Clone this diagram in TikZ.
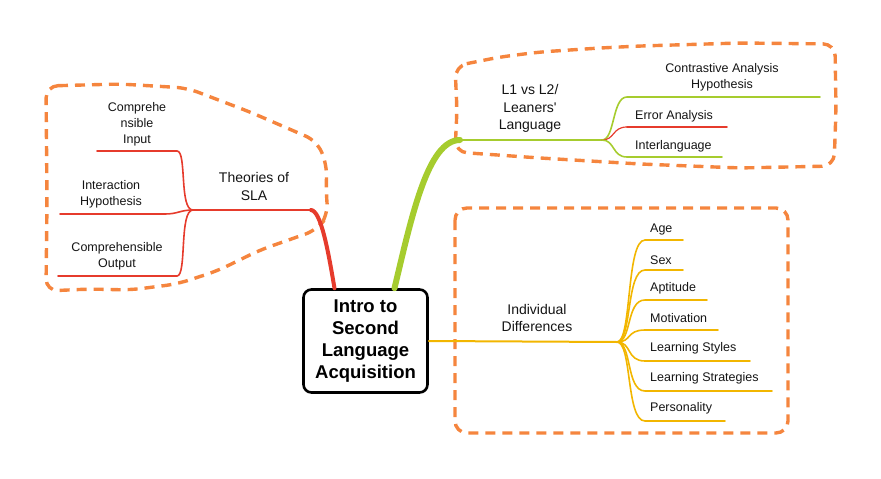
\documentclass[tikz,border=0pt]{standalone}
\usepackage{fontspec}
\setmainfont{Liberation Sans}
\definecolor{slared}{HTML}{E63B2C}
\definecolor{slagreen}{HTML}{A6CC2E}
\definecolor{slayellow}{HTML}{F2B600}
\definecolor{cloudorange}{HTML}{F5853E}
\definecolor{inktext}{HTML}{141414}
\begin{document}
\begin{tikzpicture}[x=1pt,y=-1pt,line cap=round,
  topic/.style={align=center,inner sep=0pt,text=inktext,font=\fontsize{14}{17.5}\selectfont},
  leaf/.style={align=center,inner sep=0pt,text=inktext,font=\fontsize{12.5}{16}\selectfont},
  twig/.style={line width=1.6pt},
  cloud/.style={cloudorange,line width=3.4pt,dash pattern=on 10pt off 7pt,line cap=butt,rounded corners=12pt}]
  \useasboundingbox (0,0) rectangle (881,479);
  % Dashed clouds
  \draw[cloud] (46,86) -- (120,84) -- (187,88) -- (250,112) -- (317,141) -- (327,165)
    -- (326,190) -- (328,215) -- (317,230) -- (260,250) -- (217,271) -- (177,284) -- (130,290)
    -- (90,289) -- (46,291) -- (47,200) -- cycle;
  \draw[cloud] (455,66) -- (500,57) -- (540,52) -- (600,48) -- (640,46) -- (740,43) -- (835,44)
    -- (836,110) -- (834,166) -- (740,168) -- (640,164) -- (540,158) -- (455,152) -- (457,110) -- cycle;
  \draw[cloud] (455,208) rectangle (788,433);
  % Central topic
  \node[draw,line width=2.6pt,rounded corners=8pt,minimum width=124pt,minimum height=103pt,
    align=center,inner sep=0pt,font=\fontsize{18.5}{22}\selectfont\bfseries] (intro) at (365.5,341)
    {Intro to\\Second\\Language\\Acquisition};
  % Theories of SLA
  \node[topic] (theories) at (254,186.5) {Theories of\\SLA};
  \node[leaf] (compin) at (137,124) {Comprehe\\nsible\\Input};
  \node[leaf] (interact) at (111,194.5) {Interaction\\Hypothesis};
  \node[leaf] (compout) at (117,256.5) {Comprehensible\\Output};
  \coordinate (sla-fan) at (193,210);
  \coordinate (sla-end) at (311,210);
  \draw[slared,line width=2pt] (sla-end) -- (sla-fan);
  \draw[slared,line width=4pt] ([xshift=-31pt]intro.north) .. controls (328,250) and (321,211) .. (sla-end);
  \draw[slared,twig] (sla-fan) .. controls (179,210) and (187,151) .. (177,151) -- (97,151);
  \draw[slared,twig] (sla-fan) .. controls (180,210) and (178,214) .. (165,214) -- (60,214);
  \draw[slared,twig] (sla-fan) .. controls (179,210) and (187,276) .. (177,276) -- (58,276);
  % L1 vs L2
  \node[topic] (learners) at (530,108.5) {L1 vs L2/\\Leaners\textquotesingle\\Language};
  \node[leaf] (contrast) at (722,77) {Contrastive Analysis\\Hypothesis};
  \node[leaf,anchor=west] (erroran) at (635,116) {Error Analysis};
  \node[leaf,anchor=west] (interlang) at (635,146) {Interlanguage};
  \coordinate (l1-fan) at (602,140);
  \coordinate (l1-start) at (460,140);
  \draw[slagreen,line width=6pt] ([xshift=29pt]intro.north) .. controls (412,215) and (428,140) .. (l1-start);
  \draw[slagreen,line width=2pt] (l1-start) -- (l1-fan);
  \draw[slagreen,twig] (l1-fan) .. controls (615,140) and (612,97) .. (627,97) -- (820,97);
  \draw[slared,line width=1.2pt] (l1-fan) .. controls (615,140) and (612,127) .. (627,127);
  \draw[slared,twig] (627,127) -- (727,127);
  \draw[slagreen,twig] (l1-fan) .. controls (615,140) and (612,157) .. (627,157) -- (722,157);
  % Individual differences
  \node[topic] (indiv) at (537,318) {Individual\\Differences};
  \node[leaf,anchor=west] (age) at (650,229) {Age};
  \node[leaf,anchor=west] (sex) at (650,260) {Sex};
  \node[leaf,anchor=west] (aptitude) at (650,288) {Aptitude};
  \node[leaf,anchor=west] (motiv) at (650,318) {Motivation};
  \node[leaf,anchor=west] (lstyles) at (650,348) {Learning Styles};
  \node[leaf,anchor=west] (lstrat) at (650,378) {Learning Strategies};
  \node[leaf,anchor=west] (person) at (650,408) {Personality};
  \coordinate (id-fan) at (617,342);
  \draw[slayellow,line width=2pt] (intro.east) -- (id-fan);
  \draw[slayellow,twig] (id-fan) .. controls (632,342) and (626,240) .. (645,240) -- (683,240);
  \draw[slayellow,twig] (id-fan) .. controls (632,342) and (626,270) .. (645,270) -- (683,270);
  \draw[slayellow,twig] (id-fan) .. controls (632,342) and (626,300) .. (645,300) -- (707,300);
  \draw[slayellow,twig] (id-fan) .. controls (632,342) and (626,330) .. (645,330) -- (718,330);
  \draw[slayellow,twig] (id-fan) .. controls (632,342) and (626,361) .. (645,361) -- (750,361);
  \draw[slayellow,twig] (id-fan) .. controls (632,342) and (626,391) .. (645,391) -- (772,391);
  \draw[slayellow,twig] (id-fan) .. controls (632,342) and (626,421) .. (645,421) -- (725,421);
\end{tikzpicture}
\end{document}
